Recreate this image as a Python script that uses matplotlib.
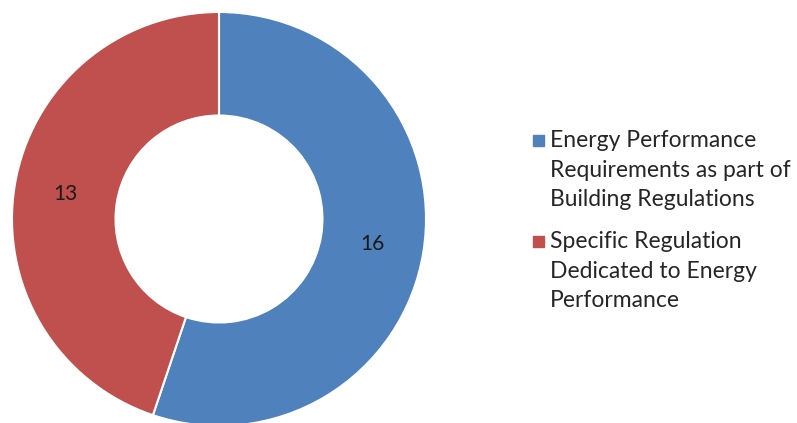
import matplotlib
matplotlib.use('Agg')
import matplotlib.pyplot as plt
from matplotlib.patches import Rectangle

# data
categories = ['Energy Performance\nRequirements as part of\nBuilding Regulations',
              'Specific Regulation\nDedicated to Energy\nPerformance']
counts = [16, 13]
colors = ['#4F81BD', '#C0504D']

plt.rcParams['font.family'] = ['Lato', 'DejaVu Sans']

fig = plt.figure(figsize=(7.97, 4.23), dpi=100)
# donut axes: centre at (219, 219) px from top-left, radius 207 px
W, H = 797.0, 423.0
cx, cy, r = 219.0, 219.0, 207.0
ax = fig.add_axes([(cx - r) / W, (H - cy - r) / H, 2 * r / W, 2 * r / H])
total = sum(counts)
wedges, texts, autotexts = ax.pie(
    counts, colors=colors, startangle=90, counterclock=False,
    radius=1.0, wedgeprops=dict(width=0.5, edgecolor='white', linewidth=1.5),
    autopct=lambda p: '%d' % round(p * total / 100.0), pctdistance=0.75,
    textprops=dict(fontsize=15, color='#1a1a1a'))
ax.set_xlim(-1, 1)
ax.set_ylim(-1, 1)
ax.set_aspect('equal')
ax.axis('off')

# legend drawn by hand: square next to the first line of each entry
first_base = [147, 248]   # px from top, baseline of first line
last_base = [206, 307]    # px from top, baseline of last line
for lab, col, y0, y1 in zip(categories, colors, first_base, last_base):
    fig.patches.append(Rectangle((533 / W, 1 - (y0 - 1) / H), 11 / W, 11 / H,
                                 transform=fig.transFigure, color=col))
    fig.text(550 / W, 1 - y1 / H, lab, fontsize=16.5, color='#262626',
             va='baseline', linespacing=1.5,
             transform=fig.transFigure)

fig.savefig('out.png', dpi=100)
